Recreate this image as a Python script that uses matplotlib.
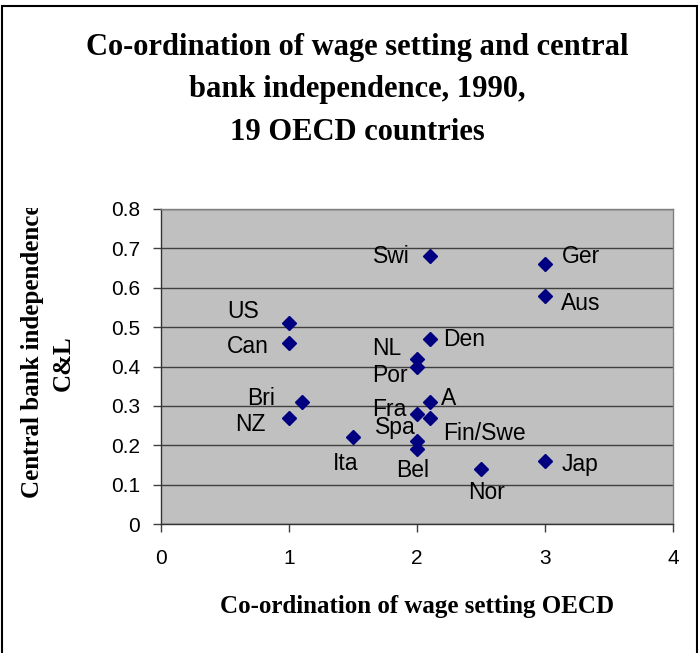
import matplotlib
matplotlib.use("Agg")
import matplotlib.pyplot as plt
from matplotlib.patches import Rectangle
from matplotlib.transforms import Bbox, TransformedBbox

# data
countries = ["Swi", "Ger", "Aus", "US", "Can", "Den", "NL", "Por", "Bri",
             "A", "NZ", "Fra", "Spa", "Fin/Swe", "Ita", "Bel", "Nor", "Jap"]
coordination = [2.1, 3.0, 3.0, 1.0, 1.0, 2.1, 2.0, 2.0, 1.1,
                2.1, 1.0, 2.0, 2.0, 2.1, 1.5, 2.0, 2.5, 3.0]
cbi = [0.68, 0.66, 0.58, 0.51, 0.46, 0.47, 0.42, 0.40, 0.31,
       0.31, 0.27, 0.28, 0.21, 0.27, 0.22, 0.19, 0.14, 0.16]

x_ticks = [0, 1, 2, 3, 4]
y_ticks = [0, 0.1, 0.2, 0.3, 0.4, 0.5, 0.6, 0.7, 0.8]
y_tick_labels = ["0", "0.1", "0.2", "0.3", "0.4", "0.5", "0.6", "0.7", "0.8"]

# label offsets in pixels (dx, dy) relative to each marker
label_offsets = {
    "Swi": (-38, 0), "Ger": (36, 8), "Aus": (36, -8), "US": (-46, 12),
    "Can": (-41, -4), "Den": (34, -1), "NL": (-30, 10), "Por": (-27, -9),
    "Bri": (-41, 3), "A": (19, 3), "NZ": (-39, -7), "Fra": (-28, 4),
    "Spa": (-22, 14), "Fin/Swe": (55, -16), "Ita": (-7, -26), "Bel": (-4, -21),
    "Nor": (6, -24), "Jap": (35, -4),
}

W, H = 698, 653
fig = plt.figure(figsize=(W / 100, H / 100), dpi=100)

# outer chart frame
fig.add_artist(Rectangle((2 / W, -0.01), 695 / W, 1.01 - 6 / H,
                         transform=fig.transFigure, fill=False,
                         edgecolor="black", linewidth=1.5))

# plot area
ax = fig.add_axes([161 / W, 1 - 524 / H, 512 / W, 315 / H])
ax.set_facecolor("#C0C0C0")
ax.set_xlim(0, 4)
ax.set_ylim(0, 0.8)

ax.plot(coordination, cbi, linestyle="none", marker="D", markersize=7,
        color="#000080", zorder=3)

sans = "Liberation Sans"
serif = "Liberation Serif"

for name, x, y in zip(countries, coordination, cbi):
    dx, dy = label_offsets[name]
    ax.annotate(name, (x, y), xytext=(dx, dy), textcoords="offset pixels",
                ha="center", va="center", fontsize=16.5, family=sans,
                color="black", zorder=4)

ax.set_xticks(x_ticks)
ax.set_xticklabels([str(t) for t in x_ticks])
ax.set_yticks(y_ticks)
ax.set_yticklabels(y_tick_labels)
ax.tick_params(axis="both", direction="out", length=6, width=1,
               color="#404040", labelsize=15)
ax.tick_params(axis="y", pad=9)
ax.tick_params(axis="x", pad=12)
for lbl in ax.get_xticklabels() + ax.get_yticklabels():
    lbl.set_family(sans)

ax.grid(axis="y", color="#404040", linewidth=1)
ax.set_axisbelow(True)
ax.spines["left"].set_color("#333333")
ax.spines["bottom"].set_color("#333333")
ax.spines["top"].set_color("#808080")
ax.spines["right"].set_color("#808080")
for s in ax.spines.values():
    s.set_linewidth(1)

# title
fig.text(357 / W, 1 - 90 / H,
         "Co-ordination of wage setting and central\nbank independence, 1990,\n19 OECD countries",
         ha="center", va="center", fontsize=22, fontweight="bold",
         family=serif, linespacing=1.6)

# axis titles
fig.text(417 / W, 1 - 607 / H, "Co-ordination of wage setting OECD",
         ha="center", va="center", fontsize=18, fontweight="bold", family=serif)

clip = TransformedBbox(Bbox([[0, 0], [1, 1 - 208 / H]]), fig.transFigure)
yl1 = fig.text(33 / W, 1 - 351 / H, "Central bank independence",
               rotation=90, ha="center", va="center", fontsize=18,
               fontweight="bold", family=serif)
yl1.set_clip_box(clip)
yl1.set_clip_on(True)
fig.text(63 / W, 1 - 363 / H, "C&L", rotation=90, ha="center", va="center",
         fontsize=18, fontweight="bold", family=serif)

fig.savefig("out.png", dpi=100)
